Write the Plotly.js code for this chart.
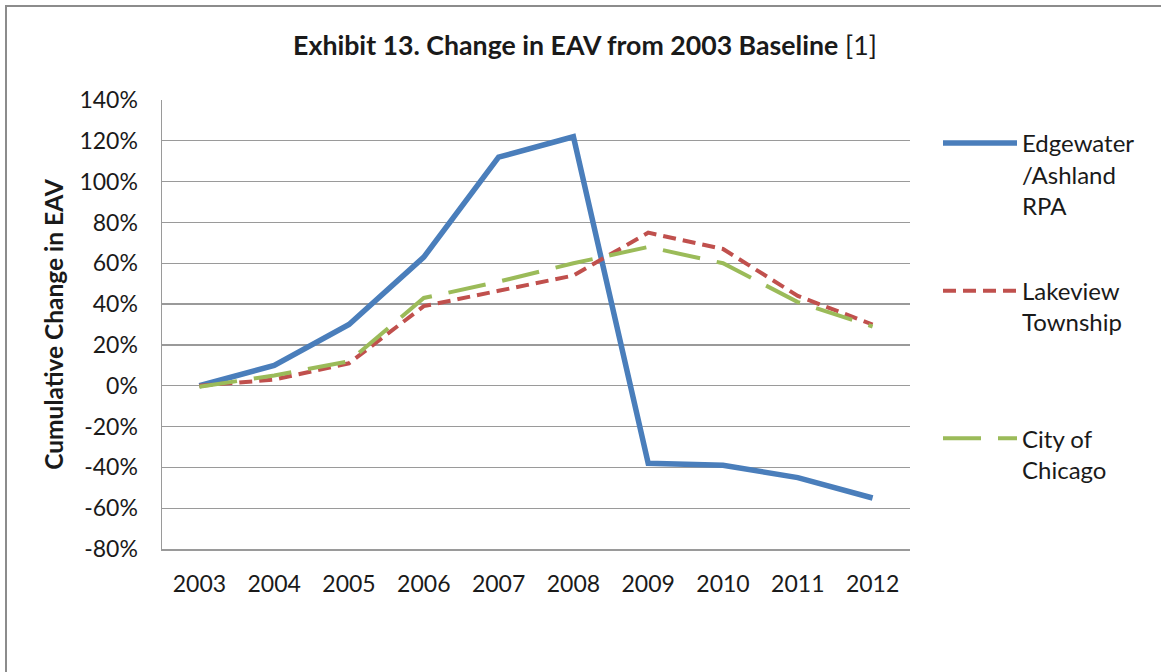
<!DOCTYPE html>
<html>
<head>
<meta charset="utf-8">
<script src="https://cdn.plot.ly/plotly-3.0.1.min.js"></script>
<style>
  html, body { margin: 0; padding: 0; background: #ffffff; }
  #wrap { position: relative; width: 1161px; height: 672px; overflow: hidden; }
  #chart { position: absolute; left: 0; top: 0; width: 1161px; height: 672px; }
  #frame { position: absolute; left: 5px; top: 5px; width: 1170px; height: 690px;
           border-top: 2.5px solid #8c8c8c; border-left: 2.5px solid #8c8c8c; pointer-events: none; }
</style>
</head>
<body>
<div id="wrap">
  <div id="chart"></div>
  <div id="frame"></div>
</div>
<script>
const years = ['2003','2004','2005','2006','2007','2008','2009','2010','2011','2012'];
const edgewater = [0.00, 0.10, 0.30, 0.63, 1.12, 1.22, -0.38, -0.39, -0.45, -0.55];
const lakeview  = [0.00, 0.03, 0.11, 0.39, 0.465, 0.54, 0.75, 0.67, 0.44, 0.30];
const chicago   = [-0.005, 0.05, 0.12, 0.43, 0.51, 0.60, 0.68, 0.60, 0.41, 0.29];
const yTicks = [-0.8, -0.6, -0.4, -0.2, 0, 0.2, 0.4, 0.6, 0.8, 1.0, 1.2, 1.4];
const yTickLabels = ['-80%', '-60%', '-40%', '-20%', '0%', '20%', '40%', '60%', '80%', '100%', '120%', '140%'];
const seriesNames = ['Edgewater<br>/Ashland<br>RPA', 'Lakeview<br>Township<br> ', 'City of<br>Chicago'];

const FONT = 'Lato, "Open Sans", sans-serif';
const TXT = '#1a1a1a';

const traces = [
  { x: years, y: edgewater, name: seriesNames[0], type: 'scatter', mode: 'lines', legendgroup: 'a',
    line: { color: '#4a7ebb', width: 5.5 } },
  { x: years, y: lakeview, name: seriesNames[1], type: 'scatter', mode: 'lines', legendgroup: 'b',
    line: { color: '#c0504d', width: 4, dash: '13px,7px' } },
  { x: years, y: chicago, name: seriesNames[2], type: 'scatter', mode: 'lines', legendgroup: 'c',
    line: { color: '#9bbb59', width: 4, dash: '38px,17px' } }
];

const layout = {
  width: 1161, height: 672,
  paper_bgcolor: '#ffffff', plot_bgcolor: '#ffffff',
  margin: { l: 162, r: 251, t: 100, b: 123, pad: 0, autoexpand: false },
  font: { family: FONT, size: 23, color: TXT },
  title: {
    text: '<b>Exhibit 13. Change in EAV from 2003 Baseline</b> [1]',
    font: { family: FONT, size: 26.7, color: TXT },
    x: 585 / 1161, xanchor: 'center', xref: 'container',
    y: 1 - 46 / 672, yanchor: 'middle', yref: 'container'
  },
  xaxis: {
    type: 'category', range: [-0.5, 9.5],
    showgrid: false, zeroline: false,
    showline: true, linecolor: '#9a9a9a', linewidth: 1.5,
    ticks: '', ticklabelstandoff: 14,
    tickfont: { family: FONT, size: 23, color: TXT }
  },
  yaxis: {
    range: [-0.8, 1.4], tickvals: yTicks, ticktext: yTickLabels,
    showgrid: true, gridcolor: '#9a9a9a', gridwidth: 1.2,
    zeroline: false,
    showline: true, linecolor: '#9a9a9a', linewidth: 1.5,
    ticks: '', ticklabelstandoff: 18,
    tickfont: { family: FONT, size: 23, color: TXT },
    title: { text: '<b>Cumulative Change in EAV</b>', font: { family: FONT, size: 24.5, color: TXT }, standoff: 9 }
  },
  showlegend: true,
  legend: {
    xref: 'container', yref: 'container',
    x: 938 / 1161, xanchor: 'left', y: 1 - 121 / 672, yanchor: 'top',
    bgcolor: 'rgba(0,0,0,0)', borderwidth: 0,
    valign: 'top', tracegroupgap: 51, itemwidth: 74, maxheight: 640,
    font: { family: FONT, size: 24, color: TXT },
    traceorder: 'grouped'
  }
};

Plotly.newPlot('chart', traces, layout, { displayModeBar: false, staticPlot: true });
</script>
</body>
</html>
